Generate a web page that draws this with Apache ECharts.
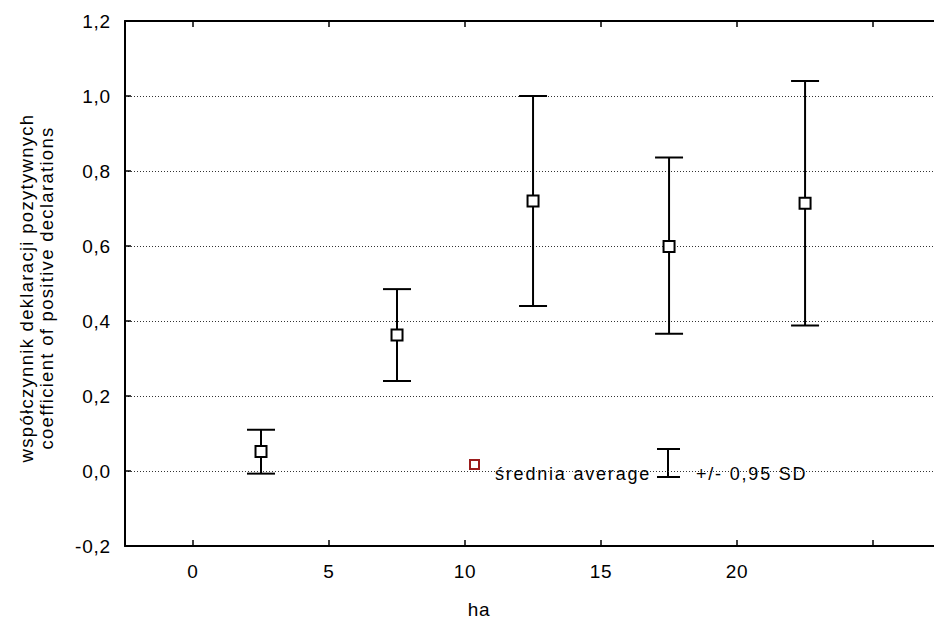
<!DOCTYPE html>
<html>
<head>
<meta charset="utf-8">
<script src="https://cdn.jsdelivr.net/npm/echarts@6/dist/echarts.min.js"></script>
<style>
  html, body { margin: 0; padding: 0; background: #fff; }
  #chart { width: 934px; height: 619px; }
</style>
</head>
<body>
<div id="chart"></div>
<script>
// ---- data ----
const xCenters = [2.5, 7.5, 12.5, 17.5, 22.5];          // ha
const means    = [0.052, 0.363, 0.720, 0.599, 0.714];   // średnia / average
const lower    = [-0.007, 0.240, 0.440, 0.366, 0.388];  // mean - 0.95 SD
const upper    = [0.110, 0.485, 1.000, 0.836, 1.040];   // mean + 0.95 SD
const xTickValues  = [0, 5, 10, 15, 20, 25];
const xLabelValues = [0, 5, 10, 15, 20];
const yTitle = ['współczynnik deklaracji pozytywnych', 'coefficient of positive declarations'];
const xTitle = 'ha';
const legendMean = 'średnia average';
const legendSD = '+/- 0,95 SD';

const FONT = '"Liberation Sans", Arial, sans-serif';

const chart = echarts.init(document.getElementById('chart'), null, { renderer: 'svg' });

const meanData = xCenters.map((x, i) => [x, means[i]]);
const barData = xCenters.map((x, i) => [x, lower[i], upper[i]]);

const option = {
  animation: false,
  backgroundColor: '#fff',
  grid: { left: 125, right: 0, top: 21, bottom: 73 },
  xAxis: [
    {
      type: 'value', position: 'bottom', min: -2.5, max: 27.24,
      axisLine: { show: true, onZero: false, lineStyle: { color: '#000', width: 2 } },
      axisTick: { show: true, inside: true, length: 6, customValues: xTickValues, lineStyle: { color: '#000', width: 1.5 } },
      axisLabel: { show: true, customValues: xLabelValues, margin: 16, color: '#000', fontSize: 19, fontFamily: FONT },
      splitLine: { show: false }
    },
    {
      type: 'value', position: 'top', min: -2.5, max: 27.24,
      axisLine: { show: true, onZero: false, lineStyle: { color: '#000', width: 2 } },
      axisTick: { show: true, inside: true, length: 6, customValues: xTickValues, lineStyle: { color: '#000', width: 1.5 } },
      axisLabel: { show: false },
      splitLine: { show: false }
    }
  ],
  yAxis: {
    type: 'value', min: -0.2, max: 1.2, interval: 0.2,
    axisLine: { show: true, onZero: false, lineStyle: { color: '#000', width: 2 } },
    axisTick: { show: true, inside: true, length: 6, lineStyle: { color: '#000', width: 1.5 } },
    axisLabel: {
      margin: 14, color: '#000', fontSize: 19, fontFamily: FONT,
      formatter: v => v.toFixed(1).replace('.', ',')
    },
    splitLine: { show: true, lineStyle: { color: '#333', width: 1, type: [1, 2] } }
  },
  graphic: [
    {
      type: 'text', x: 36, y: 288, rotation: Math.PI / 2,
      style: {
        text: yTitle.join('\n'), fill: '#000', font: '18.5px ' + FONT,
        textAlign: 'center', textVerticalAlign: 'middle', lineHeight: 20
      }
    },
    {
      type: 'text', x: 479, y: 609,
      style: { text: xTitle, fill: '#000', font: '19px ' + FONT, textAlign: 'center', textVerticalAlign: 'middle' }
    },
    {
      type: 'rect', shape: { x: 470, y: 460, width: 9, height: 9 },
      style: { fill: '#fff', stroke: '#9b1c1c', lineWidth: 2 }
    },
    {
      type: 'text', x: 495, y: 474,
      style: { text: legendMean, fill: '#000', font: '18px ' + FONT, textAlign: 'left', textVerticalAlign: 'middle' }
    },
    { type: 'line', shape: { x1: 668, y1: 449, x2: 668, y2: 477 }, style: { stroke: '#000', lineWidth: 2 } },
    { type: 'line', shape: { x1: 657, y1: 449, x2: 680, y2: 449 }, style: { stroke: '#000', lineWidth: 2 } },
    { type: 'line', shape: { x1: 657, y1: 477, x2: 680, y2: 477 }, style: { stroke: '#000', lineWidth: 2 } },
    {
      type: 'text', x: 696, y: 474,
      style: { text: legendSD, fill: '#000', font: '18px ' + FONT, textAlign: 'left', textVerticalAlign: 'middle' }
    }
  ],
  series: [
    {
      type: 'custom', name: 'SD', xAxisIndex: 0, yAxisIndex: 0, z: 2,
      data: barData,
      renderItem: function (params, api) {
        const x = api.value(0);
        const lo = api.coord([x, api.value(1)]);
        const hi = api.coord([x, api.value(2)]);
        const half = 14;
        const st = { stroke: '#000', lineWidth: 2 };
        return {
          type: 'group',
          children: [
            { type: 'line', shape: { x1: lo[0], y1: lo[1], x2: hi[0], y2: hi[1] }, style: st },
            { type: 'line', shape: { x1: hi[0] - half, y1: hi[1], x2: hi[0] + half, y2: hi[1] }, style: st },
            { type: 'line', shape: { x1: lo[0] - half, y1: lo[1], x2: lo[0] + half, y2: lo[1] }, style: st }
          ]
        };
      }
    },
    {
      type: 'scatter', name: 'mean', xAxisIndex: 0, yAxisIndex: 0, z: 3,
      data: meanData, symbol: 'rect', symbolSize: 11,
      itemStyle: { color: '#fff', borderColor: '#000', borderWidth: 2, opacity: 1 },
      emphasis: { disabled: true }
    }
  ]
};

chart.setOption(option);

function spacingFor(fs) {
  if (fs <= 18.2) return 1.8;   // legend texts
  if (fs <= 18.7) return 1.3;   // axis title
  return 0.8;                   // tick labels, "ha"
}
function applySpacing() {
  const texts = document.querySelectorAll('#chart svg text');
  texts.forEach(t => {
    const fs = parseFloat(getComputedStyle(t).fontSize);
    const sp = spacingFor(fs);
    t.setAttribute('letter-spacing', sp + 'px');
    t.style.letterSpacing = sp + 'px';
  });
}
try { chart.getZr().flush(); } catch (e) {}
applySpacing();
chart.on('finished', applySpacing);
setTimeout(applySpacing, 50);
</script>
</body>
</html>
